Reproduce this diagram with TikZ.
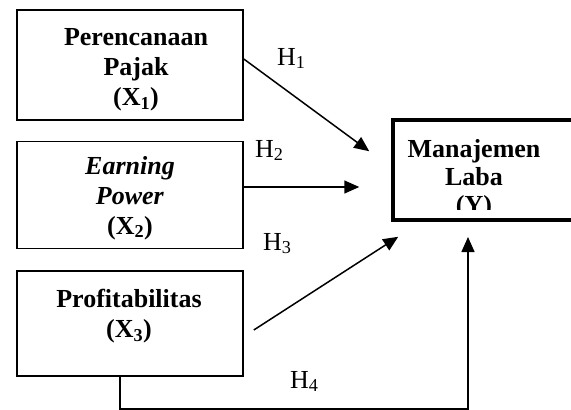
\documentclass[tikz,border=0pt]{standalone}
\usepackage{fontspec}
\setmainfont{Liberation Serif}
\usetikzlibrary{arrows.meta}

\tikzset{
	varbox/.style={draw, line width=1.6pt, minimum width=226pt, inner sep=0pt},
	vartext/.style={align=center, inner sep=0pt, font=\bfseries\fontsize{26}{30}\selectfont},
	hyp/.style={anchor=base west, inner sep=0pt, font=\fontsize{26}{28}\selectfont},
	link/.style={line width=1.5pt, -{Triangle[length=15pt, width=13pt]}},
}

\begin{document}
\begin{tikzpicture}[x=1pt, y=-1pt]
	\useasboundingbox (0,0) rectangle (571,410);
	% independent variables
	\node[varbox, minimum height=110pt] (x1) at (130,65) {};
	\node[vartext] (x1t) at (136,70) {Perencanaan\\Pajak\\(X\textsubscript{1})};
	\node[varbox, minimum height=107pt] (x2) at (130,195) {};
	\node[vartext] (x2t) at (130,198) {\textit{Earning}\\\textit{Power}\\(X\textsubscript{2})};
	\node[varbox, minimum height=105pt] (x3) at (130,323.5) {};
	\node[vartext] (x3t) at (129,316) {Profitabilitas\\(X\textsubscript{3})};
	% dependent variable
	\node[draw, line width=3.5pt, minimum width=182pt, minimum height=100pt, inner sep=0pt] (y) at (484,170) {};
	\begin{scope}
		\clip (396,123) rectangle (569,209);
		\node[vartext, font=\bfseries\fontsize{26}{28}\selectfont] (yt) at (474,179) {Manajemen\\Laba\\(Y)};
	\end{scope}
	% hypotheses
	\coordinate (h1s) at ([yshift=6]x1.east);
	\coordinate (h1e) at ([shift={(-22,33)}]y.north west);
	\coordinate (h2s) at ([yshift=8]x2.east);
	\coordinate (h2e) at ([xshift=-32]y.west |- h2s);
	\coordinate (h3s) at ([shift={(10,6.5)}]x3.east);
	\coordinate (h3e) at ([shift={(7,15)}]y.south west);
	\coordinate (h4s) at ([xshift=-10]x3.south);
	\coordinate (h4c) at (120,409);
	\coordinate (h4d) at (468,409);
	\coordinate (h4e) at (468,237);
	\draw[link] (h1s) -- (h1e);
	\draw[link] (h2s) -- (h2e);
	\draw[link] (h3s) -- (h3e);
	\draw[link] (h4s) -- (h4c) -- (h4d) -- (h4e);
	\node[hyp] (l1) at (277,65) {H\textsubscript{1}};
	\node[hyp] (l2) at (255,157) {H\textsubscript{2}};
	\node[hyp] (l3) at (263,250) {H\textsubscript{3}};
	\node[hyp] (l4) at (290,388) {H\textsubscript{4}};
\end{tikzpicture}
\end{document}
